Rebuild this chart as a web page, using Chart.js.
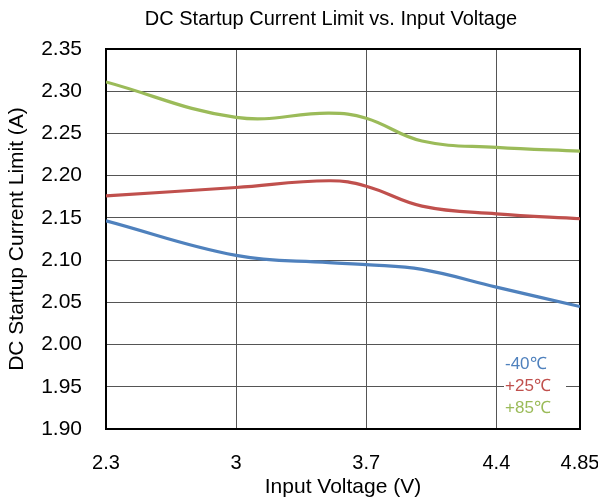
<!DOCTYPE html>
<html>
<head>
<meta charset="utf-8">
<script src="https://cdn.jsdelivr.net/npm/chart.js@4.4.1/dist/chart.umd.min.js"></script>
<style>
  html, body { margin: 0; padding: 0; background: #fff; }
  #chart { display: block; }
</style>
</head>
<body>
<canvas id="chart" width="598" height="500"></canvas>
<script>
// Données
const voltages = [2.3, 3.0, 3.5, 3.7, 4.0, 4.4, 4.85];
const minus40 = [2.1466, 2.1056, 2.097, 2.0946, 2.089, 2.068, 2.045];
const plus25 = [2.176, 2.186, 2.194, 2.1875, 2.164, 2.1547, 2.149];
const plus85 = [2.311, 2.269, 2.274, 2.268, 2.241, 2.2335, 2.229];
const xTicks = [2.3, 3, 3.7, 4.4, 4.85];
const seriesLabels = ['-40℃', '+25℃', '+85℃'];
const seriesColors = ['#4F81BD', '#C0504D', '#9BBB59'];

const FONT = "'Liberation Sans', Arial, sans-serif";

function toPoints(ys) {
    return voltages.map((v, i) => ({ x: v, y: ys[i] }));
}

// Titre + cadre + légende dessinés à la main
const decorPlugin = {
    id: 'decor',
    beforeDatasetsDraw(chart) {
        const { ctx, chartArea: a } = chart;
        ctx.save();
        ctx.strokeStyle = '#000';
        ctx.lineWidth = 2;
        ctx.strokeRect(a.left, a.top, a.right - a.left, a.bottom - a.top);
        ctx.restore();
    },
    afterDraw(chart) {
        const { ctx } = chart;
        ctx.save();
        ctx.fillStyle = '#000';
        ctx.font = '20px ' + FONT;
        ctx.textAlign = 'center';
        ctx.textBaseline = 'middle';
        ctx.fillText('DC Startup Current Limit vs. Input Voltage', 331, 19);

        // légende dans le graphique
        ctx.fillStyle = '#fff';
        ctx.fillRect(504, 350, 62, 70);
        ctx.font = '17px ' + FONT;
        ctx.textAlign = 'left';
        chart.data.datasets.forEach((ds, i) => {
            ctx.fillStyle = ds.borderColor;
            ctx.fillText(ds.label, 505, 364 + i * 22);
        });
        ctx.restore();
    }
};

new Chart(document.getElementById('chart'), {
    type: 'line',
    data: {
        datasets: [minus40, plus25, plus85].map((ys, i) => ({
            label: seriesLabels[i],
            data: toPoints(ys),
            borderColor: seriesColors[i],
            backgroundColor: seriesColors[i],
            borderWidth: 3.2,
            pointRadius: 0,
            tension: 0.4,
            fill: false
        }))
    },
    options: {
        responsive: false,
        animation: false,
        layout: { padding: { top: 49, right: 18, left: 0, bottom: 0 } },
        plugins: {
            legend: { display: false },
            title: { display: false },
            tooltip: { enabled: false }
        },
        scales: {
            x: {
                type: 'linear',
                min: 2.3,
                max: 4.85,
                afterBuildTicks: (scale) => { scale.ticks = xTicks.map(v => ({ value: v })); },
                afterFit: (scale) => {
                    scale.height = 71;
                    scale.paddingLeft = 0;
                    scale.paddingRight = 0;
                },
                grid: { color: '#555', lineWidth: 1, drawTicks: false },
                border: { display: false },
                ticks: {
                    color: '#000',
                    font: { family: FONT, size: 20 },
                    padding: 22,
                    maxRotation: 0,
                    callback: (v) => String(v)
                },
                title: {
                    display: true,
                    text: 'Input Voltage (V)',
                    color: '#000',
                    font: { family: FONT, size: 21 },
                    padding: { top: 0, bottom: 0 }
                }
            },
            y: {
                min: 1.9,
                max: 2.35,
                afterFit: (scale) => {
                    scale.width = 106;
                    scale.paddingTop = 0;
                    scale.paddingBottom = 0;
                },
                grid: { color: '#555', lineWidth: 1, drawTicks: false },
                border: { display: false },
                ticks: {
                    stepSize: 0.05,
                    color: '#000',
                    font: { family: FONT, size: 21 },
                    padding: 24,
                    callback: (v) => v.toFixed(2)
                },
                title: {
                    display: true,
                    text: 'DC Startup Current Limit (A)',
                    color: '#000',
                    font: { family: FONT, size: 21 },
                    padding: { top: 5, bottom: 0 }
                }
            }
        }
    },
    plugins: [decorPlugin]
});
</script>
</body>
</html>
